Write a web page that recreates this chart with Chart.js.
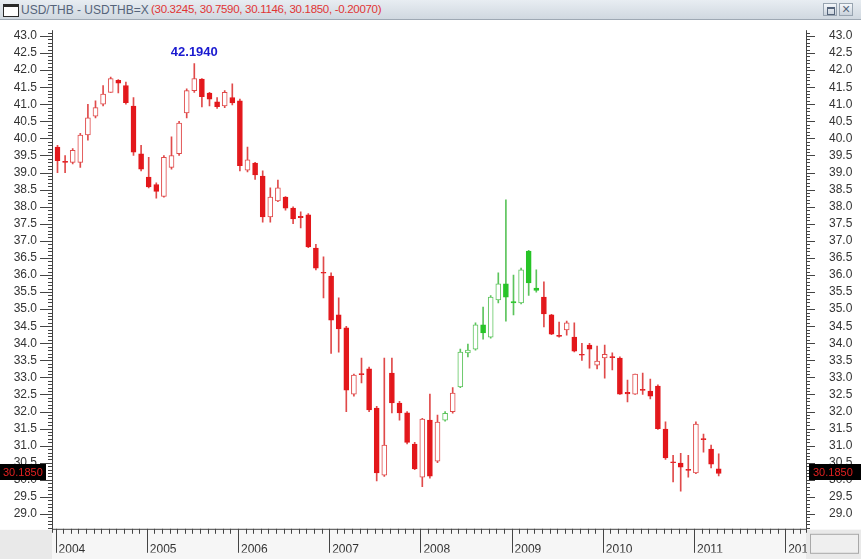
<!DOCTYPE html>
<html><head><meta charset="utf-8">
<script src="https://cdn.jsdelivr.net/npm/chart.js@4.4.1/dist/chart.umd.min.js"></script>
<style>
html,body{margin:0;padding:0;background:#fff;overflow:hidden}
#wrap{position:relative;width:861px;height:559px}
#c{position:absolute;left:0;top:0}
#bar{position:absolute;left:0;top:0;width:861px;height:20px;background:linear-gradient(#e8edf2,#d0d8e0);border-bottom:1px solid #9ea8b3;box-sizing:border-box;font-family:'Liberation Sans',Arial,sans-serif;white-space:nowrap}
#icon{position:absolute;left:3px;top:4px;width:14px;height:9px;border:1px solid #2a2a2a;border-top:3px solid #2a2a2a;background:#fff}
#t1{position:absolute;left:21px;top:3px;font-size:12px;color:#55647a}
#t2{position:absolute;left:151px;top:3px;font-size:11.5px;color:#e03434;letter-spacing:-0.3px}
.btn{position:absolute;top:3px;width:14px;height:13px;background:linear-gradient(#f4f7fa,#c9d2dc);border:1px solid #98a4b0;box-sizing:border-box}
#b1{left:823px}#b2{left:839px}
#b1:after{content:'';position:absolute;left:3px;top:3px;width:6px;height:5px;border:1px solid #55647a;border-top:2px solid #55647a}
#b2:after{content:'\00d7';position:absolute;left:2px;top:-3px;font:14px 'Liberation Sans',Arial;color:#55647a}
</style></head>
<body><div id="wrap">
<canvas id="c" width="861" height="559"></canvas>
<div id="bar"><div id="icon"></div><span id="t1">USD/THB - USDTHB=X</span><span id="t2">(30.3245, 30.7590, 30.1146, 30.1850, -0.20070)</span><div class="btn" id="b1"></div><div class="btn" id="b2"></div></div>
</div>
<script>
// Monthly candles, Jan 2004 .. Apr 2011
const yearLabels = ['2004','2005','2006','2007','2008','2009','2010','2011','2012'];
const yTickLabels = ['29.0','29.5','30.0','30.5','31.0','31.5','32.0','32.5','33.0','33.5','34.0','34.5','35.0','35.5','36.0','36.5','37.0','37.5','38.0','38.5','39.0','39.5','40.0','40.5','41.0','41.5','42.0','42.5','43.0'];
const opens = [39.75,39.33,39.30,39.30,40.10,40.65,41.00,41.35,41.70,41.55,40.95,39.55,
 38.87,38.65,38.30,39.15,39.55,40.75,41.40,41.74,41.33,41.07,40.95,41.20,
 41.10,39.07,39.28,38.90,37.70,38.17,38.28,37.96,37.72,37.76,36.79,36.08,
 35.97,34.83,34.45,32.51,33.10,33.25,32.10,30.14,33.13,32.25,31.96,31.05,
 30.08,31.75,30.55,31.75,32.00,32.72,33.72,33.83,34.54,34.18,35.27,35.74,
 35.22,35.18,36.70,35.62,35.35,34.83,34.23,34.39,34.18,33.68,33.95,33.36,
 33.57,33.60,33.57,32.56,32.51,32.65,32.60,32.75,31.49,30.53,30.49,30.30,
 30.20,31.20,30.90,30.3245];
const highs = [39.80,39.50,39.70,40.15,41.00,41.10,41.55,41.80,41.72,41.65,41.20,39.80,
 39.45,38.70,39.50,40.05,40.50,41.45,42.194,41.75,41.35,41.20,41.40,41.60,
 41.15,39.75,39.30,39.05,38.55,38.78,38.30,38.00,37.85,37.80,36.90,36.53,
 36.06,35.33,34.50,33.10,33.57,33.30,32.15,33.57,33.57,32.30,32.00,31.10,
 31.80,32.51,31.90,32.00,32.70,33.83,33.98,34.60,35.06,35.40,36.06,38.20,
 36.00,36.20,36.72,36.15,35.80,34.85,34.62,34.65,34.60,34.00,34.00,33.92,
 33.95,33.72,33.60,32.92,33.10,33.13,32.95,32.78,31.70,30.72,30.78,30.72,
 31.70,31.34,31.02,30.759];
const lows = [39.00,39.00,39.25,39.15,39.95,40.60,40.95,41.35,41.33,41.00,39.50,39.05,
 38.55,38.25,38.28,39.10,39.50,40.60,41.35,40.92,40.95,40.88,40.90,40.98,
 39.05,39.02,38.80,37.55,37.55,38.15,37.90,37.50,37.38,36.80,36.15,35.33,
 33.70,33.74,32.00,32.45,32.84,32.00,29.97,30.10,31.96,31.75,31.05,30.30,
 29.80,30.05,30.50,31.72,31.95,32.70,33.60,33.80,34.12,34.15,35.18,34.65,
 34.83,35.15,35.40,35.50,34.48,34.25,34.18,34.24,33.75,33.50,33.27,33.25,
 32.98,33.22,32.50,32.28,32.50,32.50,32.37,31.48,30.60,29.94,29.67,30.08,
 30.18,30.81,30.35,30.1146];
const closes = [39.35,39.30,39.65,40.10,40.60,40.90,41.30,41.75,41.62,41.05,39.60,39.10,
 38.58,38.45,39.45,39.50,40.45,41.40,41.75,41.22,41.15,40.93,41.35,41.04,
 39.20,39.37,38.93,37.70,38.28,38.55,37.96,37.64,37.68,36.82,36.20,36.05,
 34.68,34.42,32.63,33.07,33.08,32.05,30.20,31.02,32.25,31.96,31.10,30.32,
 31.78,30.11,31.69,31.95,32.54,33.74,33.80,34.54,34.30,35.35,35.74,35.35,
 35.18,36.15,35.77,35.55,34.86,34.27,34.20,34.60,33.77,33.65,33.83,33.48,
 33.68,33.58,32.51,32.52,33.10,32.62,32.45,31.50,30.64,30.50,30.37,30.28,
 31.63,31.18,30.46,30.185];
// trend signal shown by candle colour: 1 = up (green), 0 = down (red)
const trend = [0,0,0,0,0,0,0,0,0,0,0,0, 0,0,0,0,0,0,0,0,0,0,0,0,
 0,0,0,0,0,0,0,0,0,0,0,0, 0,0,0,0,0,0,0,0,0,0,0,0,
 0,0,0,1,0,1,1,1,1,1,1,1, 1,1,1,1,0,0,0,0,0,0,0,0,
 0,0,0,0,0,0,0,0,0,0,0,0, 0,0,0,0];
const highLabelIndex = 18;

const RED='#e3171b', RED_H='#e04a4a', GRN='#27c427', GRN_H='#5cc45c';
const isUp = i => closes[i] >= opens[i];
const bodyFill = i => isUp(i) ? '#ffffff' : (trend[i] ? GRN : RED);
const bodyEdge = i => trend[i] ? (isUp(i)?GRN_H:GRN) : (isUp(i)?RED_H:RED);
const wickCol = i => trend[i] ? GRN_H : RED_H;

const font = {family:"'Liberation Sans', Arial, sans-serif", size:12};
// target frame (pixels) and value mapping
const FRAME = {top:22, bottom:532, left:52, right:806};
const Y_HI = 43, Y_HI_PX = 36, Y_LO = 29, Y_LO_PX = 514;
const X0_PX = 57.5, MONTH_PX = 7.6;
let xAxisH = 27, padTop = 22;

const deco = {
  id:'deco',
  beforeDraw(chart){
    const c=chart.ctx,a=chart.chartArea;
    c.save();
    c.fillStyle='#ffffff';c.fillRect(0,0,chart.width,chart.height);
    c.fillStyle='#e9e9e9';c.fillRect(0,a.bottom+1,chart.width,chart.height-a.bottom);
    c.fillStyle='#f6f6f6';c.fillRect(a.left,a.bottom+1,a.right-a.left,chart.height-a.bottom);
    c.restore();
  },
  afterDraw(chart){
    const c=chart.ctx,a=chart.chartArea,ys=chart.scales.y,xs=chart.scales.x;
    c.save();
    c.fillStyle='#e9e9e9';c.fillRect(a.right+1,a.bottom+1,chart.width-a.right,chart.height-a.bottom);
    c.fillStyle='#efefef';c.fillRect(a.right+4,a.bottom+5,48,19);
    c.strokeStyle='#a8a8a8';c.lineWidth=1;c.strokeRect(a.right+4.5,a.bottom+5.5,48,19);
    c.strokeStyle='#444';c.lineWidth=1;
    c.beginPath();
    c.moveTo(a.left+0.5,a.top);c.lineTo(a.left+0.5,a.bottom+4);
    c.moveTo(a.right+0.5,a.top);c.lineTo(a.right+0.5,a.bottom+4);
    c.moveTo(a.left,a.bottom+0.5);c.lineTo(a.right,a.bottom+0.5);
    for(let k=Math.ceil(ys.min*10);k<=Math.floor(ys.max*10);k++){
      const y=Math.round(ys.getPixelForValue(k/10))+0.5;
      if(y<a.top+3)continue;
      const major=k%5===0;
      c.moveTo(a.left-(major?12:4),y);c.lineTo(a.left,y);
      c.moveTo(a.right,y);c.lineTo(a.right+(major?9:4),y);
    }
    for(let m=0;m<=Math.floor(xs.max)+1;m++){
      const x=Math.round(xs.getPixelForValue(m-0.25))+0.5;
      if(x>a.right)break;
      c.moveTo(x,a.bottom);c.lineTo(x,a.bottom+(m%12===0?24:5));
    }
    c.stroke();
    const last=closes.length-1;
    const py=Math.round(ys.getPixelForValue(closes[last]))-2;
    c.fillStyle='#000';
    c.fillRect(0,py-8,46,16);
    c.fillRect(a.right+3,py-8,52,16);
    c.fillStyle='#e02020';c.font="11px 'Liberation Sans', Arial";c.textBaseline='middle';
    c.textAlign='left';
    c.fillText(closes[last].toFixed(4),3,py+1);
    c.fillText(closes[last].toFixed(4),a.right+7,py+1);
    const hx=xs.getPixelForValue(highLabelIndex),hy=ys.getPixelForValue(highs[highLabelIndex]);
    c.fillStyle='#1a1ad0';c.font="bold 13px 'Liberation Sans', Arial";c.textAlign='center';c.textBaseline='bottom';
    c.fillText(highs[highLabelIndex].toFixed(4),hx,hy-5);
    c.restore();
  }
};

const idx = opens.map((_,i)=>i);
const chart = new Chart(document.getElementById('c'),{
  type:'bar',
  data:{datasets:[
    {label:'body',order:0,grouped:false,barThickness:5,minBarLength:1,borderSkipped:false,borderWidth:1,
     data:idx.map(i=>({x:i,y:[opens[i],closes[i]]})),
     backgroundColor:idx.map(bodyFill),borderColor:idx.map(bodyEdge)},
    {label:'wick',order:1,grouped:false,barThickness:1,borderWidth:0,
     data:idx.map(i=>({x:i,y:[lows[i],highs[i]]})),
     backgroundColor:idx.map(wickCol)}
  ]},
  options:{
    responsive:false,animation:false,devicePixelRatio:1,
    layout:{padding:{top:padTop,left:0,right:0,bottom:0}},
    plugins:{legend:{display:false},tooltip:{enabled:false}},
    scales:{
      x:{type:'linear',min:-0.72,max:98.5,offset:false,
         grid:{display:false},border:{display:false},
         afterBuildTicks:s=>{s.ticks=yearLabels.map((l,k)=>({value:k*12-0.25}));},
         afterFit:s=>{s.height=xAxisH;},
         ticks:{autoSkip:false,maxRotation:0,align:'start',labelOffset:3,padding:6,font,color:'#333',
                callback:(v,i)=>yearLabels[i]}},
      y:{type:'linear',position:'left',min:28.47,max:43.41,
         grid:{display:false,drawTicks:false},border:{display:false},
         afterBuildTicks:s=>{s.ticks=yTickLabels.map(t=>({value:parseFloat(t)}));},
         afterFit:s=>{s.width=52;},
         ticks:{autoSkip:false,padding:15,font,color:'#333',callback:(v,i)=>yTickLabels[i]}},
      y2:{type:'linear',position:'right',min:28.47,max:43.41,
         grid:{display:false,drawTicks:false},border:{display:false},
         afterBuildTicks:s=>{s.ticks=yTickLabels.map(t=>({value:parseFloat(t)}));},
         afterFit:s=>{s.width=55;},
         ticks:{autoSkip:false,padding:23,font,color:'#333',callback:(v,i)=>yTickLabels[i]}}
    }
  },
  plugins:[deco]
});
// fit the plot frame to the reference, then the value-to-pixel mapping
let a = chart.chartArea;
chart.options.layout.padding.top = padTop + (FRAME.top - a.top);
xAxisH = xAxisH - (FRAME.bottom - a.bottom);
chart.update();
a = chart.chartArea;
const k = (Y_LO_PX - Y_HI_PX)/(Y_HI - Y_LO);
const yMax = Y_HI + (Y_HI_PX - a.top)/k, yMin = Y_LO - (a.bottom - Y_LO_PX)/k;
const sc = chart.options.scales;
sc.y.min = sc.y2.min = yMin; sc.y.max = sc.y2.max = yMax;
sc.x.min = -(X0_PX - a.left)/MONTH_PX; sc.x.max = (a.right - X0_PX)/MONTH_PX;
chart.update();
</script>
</body></html>
